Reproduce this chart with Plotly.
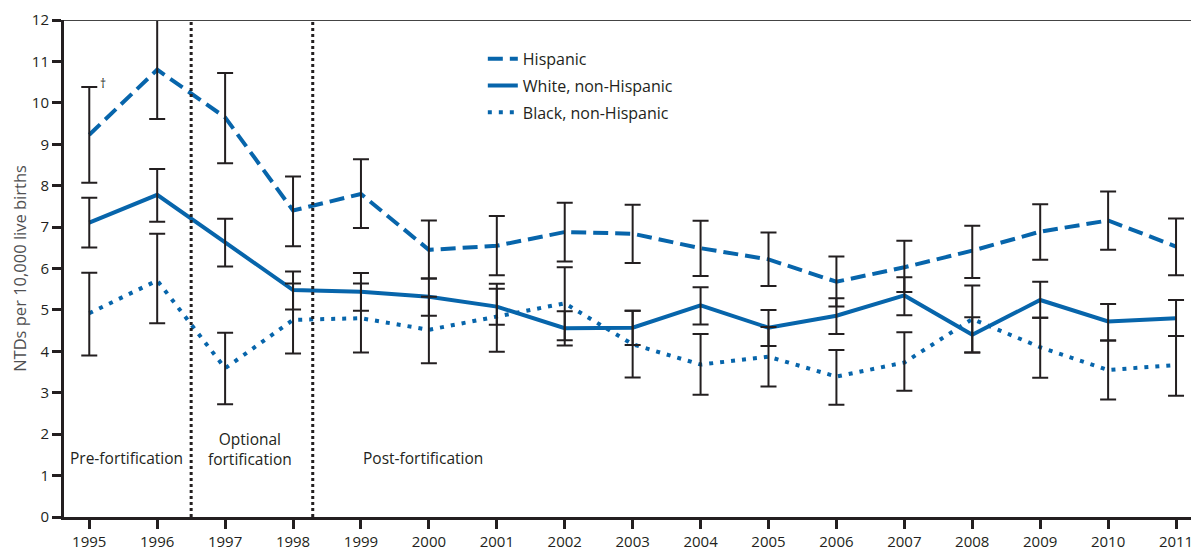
import plotly.graph_objects as go

years = list(range(1995, 2012))
tick_labels = [str(y) for y in years]

hisp = [9.23, 10.80, 9.65, 7.40, 7.80, 6.45, 6.55, 6.88, 6.84, 6.49, 6.22, 5.68, 6.03, 6.43, 6.89, 7.16, 6.53]
hisp_lo = [8.07, 9.61, 8.54, 6.54, 6.98, 5.76, 5.84, 6.17, 6.13, 5.82, 5.58, 5.08, 5.43, 5.77, 6.21, 6.45, 5.84]
hisp_hi = [10.38, 12.00, 10.72, 8.22, 8.64, 7.16, 7.27, 7.59, 7.54, 7.15, 6.87, 6.29, 6.67, 7.03, 7.55, 7.86, 7.21]

white = [7.11, 7.78, 6.63, 5.48, 5.44, 5.32, 5.08, 4.56, 4.57, 5.11, 4.57, 4.86, 5.35, 4.40, 5.24, 4.72, 4.80]
white_lo = [6.51, 7.13, 6.05, 5.01, 4.98, 4.86, 4.64, 4.14, 4.15, 4.65, 4.13, 4.42, 4.87, 3.97, 4.81, 4.26, 4.37]
white_hi = [7.71, 8.40, 7.20, 5.93, 5.89, 5.76, 5.51, 4.97, 4.98, 5.55, 5.00, 5.28, 5.79, 4.82, 5.68, 5.14, 5.24]

black = [4.92, 5.71, 3.59, 4.76, 4.80, 4.52, 4.84, 5.16, 4.17, 3.68, 3.87, 3.39, 3.73, 4.78, 4.10, 3.55, 3.67]
black_lo = [3.90, 4.68, 2.72, 3.95, 3.97, 3.71, 3.99, 4.27, 3.37, 2.95, 3.15, 2.71, 3.05, 3.97, 3.36, 2.84, 2.93]
black_hi = [5.90, 6.84, 4.45, 5.64, 5.64, 5.32, 5.63, 6.03, 4.98, 4.42, 4.59, 4.03, 4.46, 5.59, 4.81, 4.26, 4.37]

series_names = ["Hispanic", "White, non-Hispanic", "Black, non-Hispanic"]
period_bounds = [1996.5, 1998.29]

BLUE = "#0765ab"
INK = "#231f20"
FONT = "Open Sans"

fig = go.Figure()

series = [
    (series_names[0], hisp, hisp_lo, hisp_hi, "15px,7px"),
    (series_names[1], white, white_lo, white_hi, "solid"),
    (series_names[2], black, black_lo, black_hi, "4px,7px"),
]

for name, vals, lo, hi, dash in series:
    fig.add_trace(go.Scatter(
        x=years, y=vals, mode="lines", name=name, legendgroup=name,
        line=dict(color=BLUE, width=4, dash=dash),
        hoverinfo="skip",
    ))

for name, vals, lo, hi, dash in series:
    fig.add_trace(go.Scatter(
        x=years, y=vals, mode="markers", showlegend=False,
        marker=dict(size=1, color="rgba(0,0,0,0)"),
        error_y=dict(type="data", symmetric=False,
                     array=[h - v for h, v in zip(hi, vals)],
                     arrayminus=[v - l for v, l in zip(vals, lo)],
                     color=INK, thickness=2, width=8),
        hoverinfo="skip",
    ))

for xb in period_bounds:
    fig.add_shape(type="line", x0=xb, x1=xb, y0=0, y1=12, xref="x", yref="y",
                  line=dict(color=INK, width=3, dash="dot"), layer="above")

fig.add_shape(type="line", x0=0, x1=1, xref="paper", y0=12, y1=12, yref="y",
              line=dict(color="#444444", width=2))

ann_font = dict(family=FONT, size=15.5, color=INK)
fig.add_annotation(x=1995.555, y=1.43, text="Pre-fortification", showarrow=False, font=ann_font)
fig.add_annotation(x=1997.37, y=1.64, text="Optional<br>fortification", showarrow=False, font=ann_font)
fig.add_annotation(x=1999.91, y=1.43, text="Post-fortification", showarrow=False, font=ann_font)
fig.add_annotation(x=1995.2, y=10.46, text="†", showarrow=False,
                   font=dict(family=FONT, size=12, color=INK))

# page body has an 8px margin, so the figure is sized/positioned to compensate
fig.update_layout(
    width=1191, height=545,
    margin=dict(l=56, r=0, t=12, b=36),
    paper_bgcolor="white", plot_bgcolor="white",
    font=dict(family=FONT, size=15, color=INK),
    showlegend=True,
    legend=dict(x=0.369, y=0.956, xanchor="left", yanchor="top",
                bgcolor="rgba(0,0,0,0)", font=dict(family=FONT, size=16, color=INK),
                tracegroupgap=3),
    xaxis=dict(range=[1994.628, 2011.338], tickmode="array", tickvals=years, ticktext=tick_labels,
               showgrid=False, zeroline=False, showline=True, linecolor=INK, linewidth=3,
               ticks="outside", ticklen=9, tickwidth=3, tickcolor=INK,
               tickfont=dict(family=FONT, size=15, color=INK)),
    yaxis=dict(range=[0, 12], tickmode="array", tickvals=list(range(0, 13)),
               showgrid=False, zeroline=False, showline=True, linecolor=INK, linewidth=3,
               ticks="outside", ticklen=9, tickwidth=3, tickcolor=INK,
               tickfont=dict(family=FONT, size=15, color=INK),
               title=dict(text="NTDs per 10,000 live births", standoff=4,
                          font=dict(family=FONT, size=16.5, color="#505052"))),
)

fig.write_html("out.html")
